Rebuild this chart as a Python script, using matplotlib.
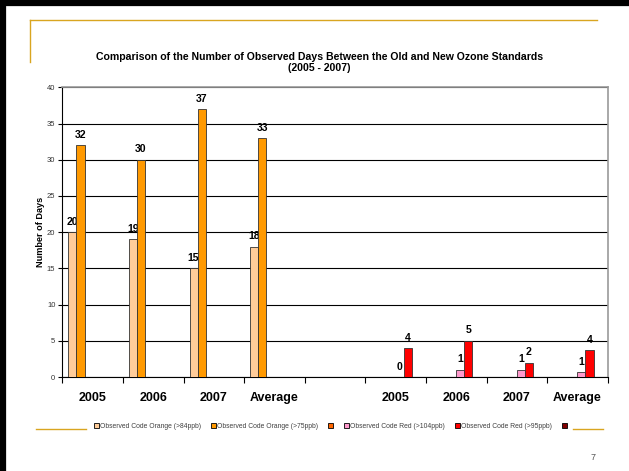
import matplotlib.pyplot as plt
from matplotlib.lines import Line2D
from matplotlib.patches import Rectangle

plt.rcParams['font.family'] = ['Liberation Sans', 'DejaVu Sans']

categories = ["2005", "2006", "2007", "Average", "", "2005", "2006", "2007", "Average"]
orange_84 = [20, 19, 15, 18, 0, 0, 0, 0, 0]
orange_75 = [32, 30, 37, 33, 0, 0, 0, 0, 0]
orange_blank = [0, 0, 0, 0, 0, 0, 0, 0, 0]
red_104 = [0, 0, 0, 0, 0, 0, 1, 1, 0.67]
red_95 = [0, 0, 0, 0, 0, 4, 5, 2, 3.67]
red_blank = [0, 0, 0, 0, 0, 0, 0, 0, 0]

series = [
    ("Observed Code Orange (>84ppb)", orange_84, "#FFCC99"),
    ("Observed Code Orange (>75ppb)", orange_75, "#FF9900"),
    ("", orange_blank, "#FF6600"),
    ("Observed Code Red (>104ppb)", red_104, "#FF99CC"),
    ("Observed Code Red (>95ppb)", red_95, "#FF0000"),
    ("", red_blank, "#800000"),
]
# which categories get data labels for each series
label_cats = [range(0, 4), range(0, 4), [], range(5, 9), range(5, 9), []]

fig = plt.figure(figsize=(6.29, 4.71), dpi=100)
ax = fig.add_axes([62.3 / 629, 1 - 377 / 471, (607.7 - 62.3) / 629, (377 - 87.3) / 471])

n = len(series)
bw = 1 / (n + 1.5)
for j, (name, vals, col) in enumerate(series):
    xs = [i + (0.75 + j) * bw for i in range(len(categories))]
    ax.bar(xs, vals, width=bw, align='edge', color=col,
           edgecolor='#333333', linewidth=0.6, zorder=3, label=name)
    for i in label_cats[j]:
        ax.annotate("%.0f" % vals[i], (xs[i] + bw / 2, vals[i]),
                    xytext=(0, 7.5), textcoords='offset points',
                    ha='center', va='center', fontsize=7.6, fontweight='bold')

ax.set_xlim(0, len(categories))
ax.set_ylim(0, 40)
ax.set_yticks(range(0, 41, 5))
ax.yaxis.grid(True, color='black', linewidth=0.8, zorder=0)
ax.set_xticks(range(0, len(categories) + 1))
ax.set_xticklabels([])
ax.set_xticks([i + 0.5 for i in range(len(categories))], minor=True)
ax.set_xticklabels(categories, minor=True, fontsize=9, fontweight='bold')
ax.tick_params(axis='x', which='minor', length=0, pad=11)
ax.tick_params(axis='x', which='major', length=4, width=0.8, direction='out')
ax.tick_params(axis='y', labelsize=5.5, length=3, width=0.8, pad=2, labelcolor='#333333')
for s in ['top', 'right']:
    ax.spines[s].set_color('#999999')
    ax.spines[s].set_linewidth(1.2)
for s in ['left', 'bottom']:
    ax.spines[s].set_color('black')
    ax.spines[s].set_linewidth(0.8)
ax.set_ylabel("Number of Days", fontsize=6.6, fontweight='bold', labelpad=1.5)

fig.text(0.508, 1 - 57 / 471, "Comparison of the Number of Observed Days Between the Old and New Ozone Standards",
         ha='center', va='center', fontsize=7.55, fontweight='bold')
fig.text(0.508, 1 - 68 / 471, "(2005 - 2007)", ha='center', va='center', fontsize=7.55, fontweight='bold')

leg_handles = [Rectangle((0, 0), 1, 1, facecolor=c, edgecolor='black', linewidth=0.6) for _, _, c in series]
fig.legend(leg_handles, [s[0] for s in series], loc='center', ncol=6,
           bbox_to_anchor=(331 / 629, 1 - 426 / 471), frameon=False, fontsize=4.9,
           handlelength=0.75, handleheight=0.75, handletextpad=0.1, columnspacing=1.5,
           labelcolor='#404040', borderpad=0)

# slide decorations
gold = '#D9A520'
fig.add_artist(Line2D([30 / 629, 597 / 629], [1 - 20 / 471, 1 - 20 / 471], color=gold, linewidth=1.0))
fig.add_artist(Line2D([30 / 629, 30 / 629], [1 - 20 / 471, 1 - 62 / 471], color=gold, linewidth=1.0))
fig.add_artist(Line2D([36 / 629, 86 / 629], [1 - 429 / 471, 1 - 429 / 471], color=gold, linewidth=1.0))
fig.add_artist(Line2D([573 / 629, 603 / 629], [1 - 429 / 471, 1 - 429 / 471], color=gold, linewidth=1.0))
fig.add_artist(Line2D([0, 1], [1 - 3 / 471, 1 - 3 / 471], color='black', linewidth=4.5))
fig.add_artist(Line2D([3 / 629, 3 / 629], [0, 1], color='black', linewidth=4.5))
fig.text(593 / 629, 1 - 457 / 471, "7", ha='center', va='center', fontsize=6.5, color='#555555')

fig.savefig("out.png", dpi=100)
